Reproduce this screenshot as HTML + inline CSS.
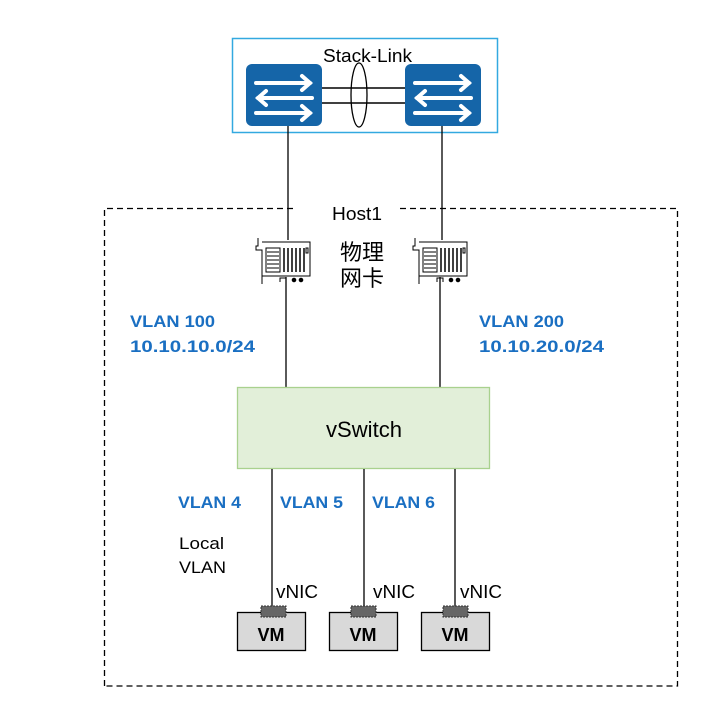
<!DOCTYPE html>
<html><head><meta charset="utf-8"><style>
html,body{margin:0;padding:0;background:#fff;width:724px;height:725px;overflow:hidden}
svg text{font-family:"Liberation Sans","Noto Sans CJK SC",sans-serif}
</style></head><body>
<svg width="724" height="725" viewBox="0 0 724 725" xmlns="http://www.w3.org/2000/svg">
<defs>
<g id="sw">
<rect x="0" y="0" width="76" height="62" rx="6" fill="#1565a8"/>
<g stroke="#fff" stroke-width="4" fill="none" stroke-linecap="round">
<line x1="10" y1="19" x2="64" y2="19"/><polyline points="56,12 64,19 56,26"/>
<line x1="12" y1="34" x2="66" y2="34"/><polyline points="20,27 12,34 20,41"/>
<line x1="10" y1="49" x2="64" y2="49"/><polyline points="56,42 64,49 56,56"/>
</g>
</g>
<g id="nic" stroke="#000" stroke-width="1" fill="none">
<polyline points="2,2 2,10 0,10 0,14 6,14 6,48"/>
<polyline points="6,6 54,6 54,40 6,40"/>
<rect x="10" y="12" width="14" height="24"/>
<line x1="11" y1="16" x2="23" y2="16"/><line x1="11" y1="20" x2="23" y2="20"/><line x1="11" y1="24" x2="23" y2="24"/><line x1="11" y1="28" x2="23" y2="28"/><line x1="11" y1="32" x2="23" y2="32"/>
<g stroke-width="1.5"><line x1="28" y1="12" x2="28" y2="36"/><line x1="32" y1="12" x2="32" y2="36"/><line x1="36" y1="12" x2="36" y2="36"/><line x1="40" y1="12" x2="40" y2="36"/><line x1="44" y1="12" x2="44" y2="36"/><line x1="48" y1="12" x2="48" y2="36"/></g>
<rect x="50" y="12" width="2" height="5"/>
<polyline points="24,46 24,42 30,42 30,46"/>
<circle cx="38" cy="44" r="1.8" fill="#000"/><circle cx="45" cy="44" r="1.8" fill="#000"/>
</g>
</defs>
<rect x="232.5" y="38.5" width="265" height="94" fill="none" stroke="#33a9e0" stroke-width="1.5"/>
<line x1="322" y1="88" x2="405" y2="88" stroke="#000" stroke-width="1.5"/>
<line x1="322" y1="103" x2="405" y2="103" stroke="#000" stroke-width="1.5"/>
<ellipse cx="359" cy="95" rx="8" ry="32" fill="none" stroke="#000" stroke-width="1.3"/>
<use href="#sw" x="246" y="64"/>
<use href="#sw" x="405" y="64"/>
<text x="323" y="62" font-size="18" textLength="89" lengthAdjust="spacingAndGlyphs">Stack-Link</text>
<path d="M104.5 686 V208.5 H296 M400 208.5 H677.5 V686 H104.5" fill="none" stroke="#000" stroke-width="1.3" stroke-dasharray="6,4"/>
<text x="332" y="220" font-size="18" textLength="50" lengthAdjust="spacingAndGlyphs">Host1</text>
<line x1="288" y1="126" x2="288" y2="240" stroke="#000" stroke-width="1.3"/>
<line x1="442" y1="126" x2="442" y2="240" stroke="#000" stroke-width="1.3"/>
<line x1="286" y1="277" x2="286" y2="387" stroke="#000" stroke-width="1.3"/>
<line x1="440" y1="277" x2="440" y2="387" stroke="#000" stroke-width="1.3"/>
<use href="#nic" x="256" y="236"/>
<use href="#nic" x="413" y="236"/>
<text x="340" y="260" font-size="22">物理</text>
<text x="340" y="286" font-size="22">网卡</text>
<g fill="#1a6fc2" font-weight="bold" font-size="17">
<text x="130" y="327" textLength="85" lengthAdjust="spacingAndGlyphs">VLAN 100</text><text x="130" y="352" textLength="125" lengthAdjust="spacingAndGlyphs">10.10.10.0/24</text>
<text x="479" y="327" textLength="85" lengthAdjust="spacingAndGlyphs">VLAN 200</text><text x="479" y="352" textLength="125" lengthAdjust="spacingAndGlyphs">10.10.20.0/24</text>
<text x="178" y="508" textLength="63" lengthAdjust="spacingAndGlyphs">VLAN 4</text><text x="280" y="508" textLength="63" lengthAdjust="spacingAndGlyphs">VLAN 5</text><text x="372" y="508" textLength="63" lengthAdjust="spacingAndGlyphs">VLAN 6</text>
</g>
<rect x="237.5" y="387.5" width="252" height="81" fill="#e2efd9" stroke="#a9d18e" stroke-width="1.3"/>
<text x="326" y="437" font-size="22" textLength="76" lengthAdjust="spacingAndGlyphs">vSwitch</text>
<text x="179" y="549" font-size="17" textLength="45" lengthAdjust="spacingAndGlyphs">Local</text>
<text x="179" y="573" font-size="17" textLength="47" lengthAdjust="spacingAndGlyphs">VLAN</text>
<g stroke="#000" stroke-width="1.3">
<line x1="272" y1="469" x2="272" y2="606"/><line x1="364" y1="469" x2="364" y2="606"/><line x1="455" y1="469" x2="455" y2="606"/>
</g>
<g font-size="18"><text x="276" y="598" textLength="42" lengthAdjust="spacingAndGlyphs">vNIC</text><text x="373" y="598" textLength="42" lengthAdjust="spacingAndGlyphs">vNIC</text><text x="460" y="598" textLength="42" lengthAdjust="spacingAndGlyphs">vNIC</text></g>
<g fill="#d9d9d9" stroke="#000" stroke-width="1.3">
<rect x="237.5" y="612.5" width="68" height="38"/><rect x="329.5" y="612.5" width="68" height="38"/><rect x="421.5" y="612.5" width="68" height="38"/>
</g>
<g fill="#666" stroke="#333" stroke-width="1" stroke-dasharray="2,1">
<rect x="261" y="606" width="25" height="11"/><rect x="351" y="606" width="25" height="11"/><rect x="443" y="606" width="25" height="11"/>
</g>
<g font-size="18" font-weight="bold" text-anchor="middle"><text x="271" y="641">VM</text><text x="363" y="641">VM</text><text x="455" y="641">VM</text></g>
</svg>
</body></html>
